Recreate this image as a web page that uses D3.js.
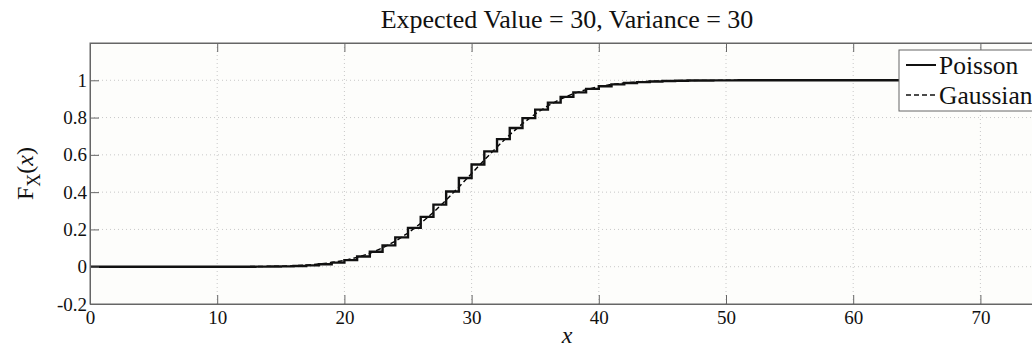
<!DOCTYPE html>
<html>
<head>
<meta charset="utf-8">
<script src="https://cdn.jsdelivr.net/npm/d3@7"></script>
<style>
  body { margin: 0; background: #fff; }
  svg { display: block; font-family: "Liberation Serif", "DejaVu Serif", serif; }
</style>
</head>
<body>
<div class="cdf-chart"></div>
<script>
// x = 0..75 (integer support)
const kValues = [
  0, 1, 2, 3, 4, 5, 6, 7, 8, 9,
  10, 11, 12, 13, 14, 15, 16, 17, 18, 19,
  20, 21, 22, 23, 24, 25, 26, 27, 28, 29,
  30, 31, 32, 33, 34, 35, 36, 37, 38, 39,
  40, 41, 42, 43, 44, 45, 46, 47, 48, 49,
  50, 51, 52, 53, 54, 55, 56, 57, 58, 59,
  60, 61, 62, 63, 64, 65, 66, 67, 68, 69,
  70, 71, 72, 73, 74, 75
];

// Poisson CDF (stairs)
const poissonCdf = [
  0, 0, 0, 0, 0, 0, 0, 0, 0, 0,
  0.0000, 0.0001, 0.0002, 0.0004, 0.0009, 0.0020, 0.0039, 0.0073, 0.0129, 0.0219,
  0.0353, 0.0544, 0.0806, 0.1146, 0.1572, 0.2083, 0.2673, 0.3328, 0.4031, 0.4757,
  0.5484, 0.6186, 0.6845, 0.7444, 0.7973, 0.8426, 0.8803, 0.9110, 0.9351, 0.9537,
  0.9677, 0.9779, 0.9851, 0.9902, 0.9937, 0.9960, 0.9975, 0.9985, 0.9991, 0.9994,
  0.9997, 0.9998, 0.9999, 0.9999, 1, 1, 1, 1, 1, 1,
  1, 1, 1, 1, 1, 1, 1, 1, 1, 1,
  1, 1, 1, 1, 1, 1
];

// Gaussian CDF (dashed)
const gaussCdf = [
  0, 0, 0, 0, 0, 0, 0, 0, 0, 0.0001,
  0.0001, 0.0003, 0.0005, 0.0010, 0.0017, 0.0031, 0.0053, 0.0088, 0.0142, 0.0223,
  0.0339, 0.0502, 0.0720, 0.1006, 0.1367, 0.1807, 0.2327, 0.2919, 0.3576, 0.4276,
  0.5000, 0.5724, 0.6424, 0.7081, 0.7673, 0.8193, 0.8633, 0.8994, 0.9280, 0.9498,
  0.9661, 0.9777, 0.9858, 0.9912, 0.9947, 0.9969, 0.9983, 0.9990, 0.9995, 0.9997,
  0.9999, 0.9999, 1, 1, 1, 1, 1, 1, 1, 1,
  1, 1, 1, 1, 1, 1, 1, 1, 1, 1,
  1, 1, 1, 1, 1, 1
];

const xTicks = [0, 10, 20, 30, 40, 50, 60, 70];
const yTicks = [-0.2, 0, 0.2, 0.4, 0.6, 0.8, 1];
const yTickLabels = ["-0.2", "0", "0.2", "0.4", "0.6", "0.8", "1"];
const seriesNames = ["Poisson", "Gaussian"];
const titleText = "Expected Value = 30, Variance = 30";

const margin = ({top: 43, right: -12, bottom: 45, left: 90});
const W = 1032, H = 349;
const w = W - margin.left - margin.right;
const h = H - margin.top - margin.bottom;
const axisColor = "#666";
const tickLen = 9;

const data = kValues.map((k, i) => ({x: k, p: poissonCdf[i], g: gaussCdf[i]}));

const svg = d3.select(".cdf-chart")
  .append("svg")
    .attr("width", W)
    .attr("height", H);

const g = svg.append("g")
    .attr("transform", `translate(${margin.left},${margin.top})`);

const xScale = d3.scaleLinear().domain([0, 75]).range([0, w]);
const yScale = d3.scaleLinear().domain([-0.2, 1.2]).range([h, 0]);

// plot background
g.append("rect")
  .attr("width", w)
  .attr("height", h)
  .attr("fill", "#fdfdfb");

// grid
g.append("g")
  .selectAll("line")
  .data(xTicks.filter(d => d > 0))
  .join("line")
    .attr("x1", d => xScale(d)).attr("x2", d => xScale(d))
    .attr("y1", 0).attr("y2", h)
    .attr("stroke", "#c8c8c8")
    .attr("stroke-dasharray", "1,3");

g.append("g")
  .selectAll("line")
  .data(yTicks.filter(d => d > -0.2))
  .join("line")
    .attr("x1", 0).attr("x2", w)
    .attr("y1", d => yScale(d)).attr("y2", d => yScale(d))
    .attr("stroke", "#c8c8c8")
    .attr("stroke-dasharray", "1,3");

// lines
const stepLine = d3.line()
  .curve(d3.curveStepAfter)
  .x(d => xScale(d.x))
  .y(d => yScale(d.p));

const gaussLine = d3.line()
  .x(d => xScale(d.x))
  .y(d => yScale(d.g));

g.append("path")
  .datum(data)
  .attr("fill", "none")
  .attr("stroke", "#000")
  .attr("stroke-width", 1.4)
  .attr("stroke-dasharray", "5,3")
  .attr("d", gaussLine);

g.append("path")
  .datum(data)
  .attr("fill", "none")
  .attr("stroke", "#111")
  .attr("stroke-width", 2.4)
  .attr("d", stepLine);

// axes
const xAxis = d3.axisBottom(xScale)
  .tickValues(xTicks)
  .tickSizeInner(-tickLen)
  .tickSizeOuter(0)
  .tickPadding(7)
  .tickFormat(d3.format("d"));

const yAxis = d3.axisLeft(yScale)
  .tickValues(yTicks)
  .tickSizeInner(-tickLen)
  .tickSizeOuter(0)
  .tickPadding(3)
  .tickFormat((d, i) => yTickLabels[i]);

const xAxisGroup = g.append("g")
  .attr("transform", `translate(0,${h})`)
  .call(xAxis);

const yAxisGroup = g.append("g")
  .call(yAxis);

// top ticks (box)
g.append("g")
  .call(d3.axisTop(xScale).tickValues(xTicks).tickSizeInner(-tickLen).tickSizeOuter(0).tickFormat(""));

[xAxisGroup, yAxisGroup].forEach(ax => {
  ax.selectAll(".tick text")
    .attr("fill", "#111")
    .attr("font-size", 19)
    .attr("font-family", "Liberation Serif, DejaVu Serif, serif");
});
g.selectAll(".domain").attr("stroke", axisColor);
g.selectAll(".tick line").attr("stroke", axisColor);

g.append("rect")
  .attr("width", w)
  .attr("height", h)
  .attr("fill", "none")
  .attr("stroke", axisColor);

// title & labels
svg.append("text")
  .attr("x", margin.left + w / 2)
  .attr("y", 28)
  .attr("text-anchor", "middle")
  .attr("font-size", 26)
  .attr("fill", "#111")
  .text(titleText);

svg.append("text")
  .attr("x", margin.left + w / 2)
  .attr("y", 343)
  .attr("text-anchor", "middle")
  .attr("font-size", 24)
  .attr("font-style", "italic")
  .attr("fill", "#111")
  .text("x");

const yLab = svg.append("text")
  .attr("transform", `translate(33,${margin.top + h / 2}) rotate(-90)`)
  .attr("text-anchor", "middle")
  .attr("font-size", 24)
  .attr("fill", "#111");
yLab.append("tspan").text("F");
yLab.append("tspan").attr("font-size", 18).attr("dy", 7).text("X");
yLab.append("tspan").attr("dy", -7).text("(");
yLab.append("tspan").attr("font-style", "italic").text("x");
yLab.append("tspan").text(")");

// legend
const legend = svg.append("g").attr("transform", "translate(899,50)");
legend.append("rect")
  .attr("width", 160)
  .attr("height", 61)
  .attr("fill", "#fff")
  .attr("stroke", axisColor);

const legendRows = legend.selectAll(".row")
  .data(seriesNames)
  .join("g")
  .attr("class", "row")
  .attr("transform", (d, i) => `translate(0,${15 + i * 30})`);

legendRows.append("line")
  .attr("x1", 7).attr("x2", 37)
  .attr("y1", 0).attr("y2", 0)
  .attr("stroke", "#111")
  .attr("stroke-width", (d, i) => i === 0 ? 2 : 1.5)
  .attr("stroke-dasharray", (d, i) => i === 0 ? null : "5,3");

legendRows.append("text")
  .attr("x", 40)
  .attr("y", 9)
  .attr("font-size", 25.5)
  .attr("fill", "#111")
  .text(d => d);
</script>
</body>
</html>
